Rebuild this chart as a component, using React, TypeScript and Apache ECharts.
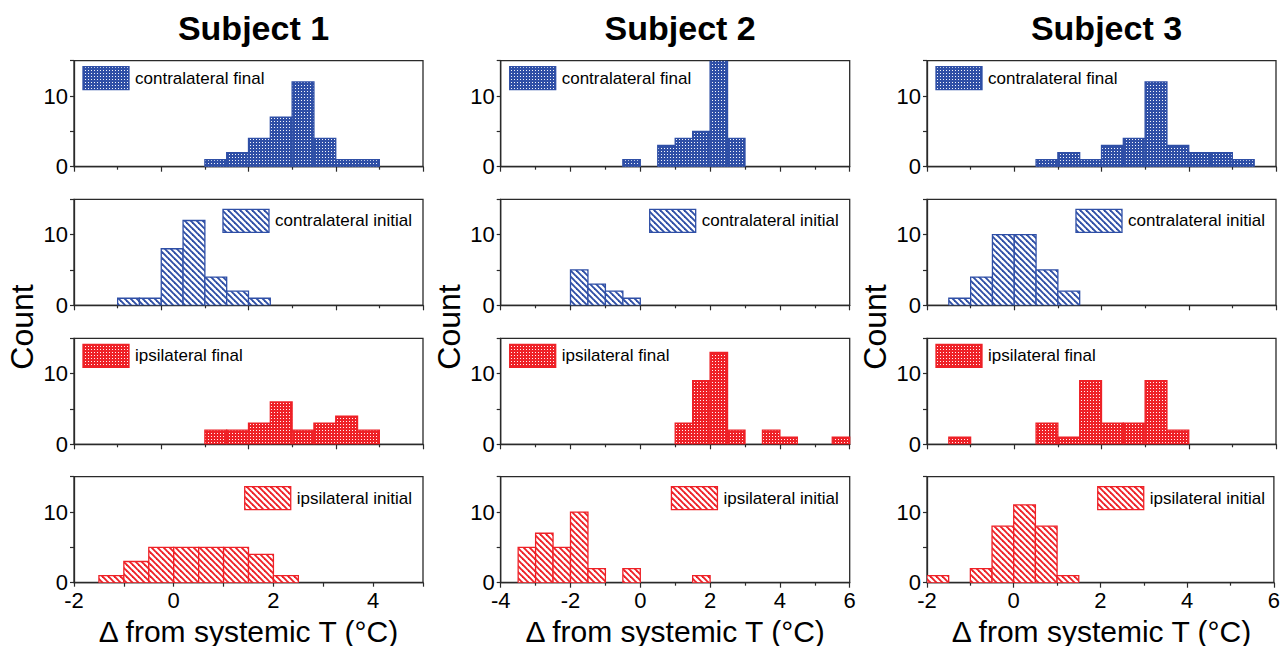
import React, { useEffect, useRef } from 'react';
import * as echarts from 'echarts';

// ---------- data ----------
const BIN_WIDTH = 0.5;

const subjects = ['Subject 1', 'Subject 2', 'Subject 3'];
const rowLabels = ['contralateral final', 'contralateral initial', 'ipsilateral final', 'ipsilateral initial'];

// Subject 1
const s1ContraFinalBins = [1.0, 1.5, 2.0, 2.5, 3.0, 3.5, 4.0, 4.5];
const s1ContraFinalCounts = [1, 2, 4, 7, 12, 4, 1, 1];
const s1ContraInitialBins = [-1.0, -0.5, 0.0, 0.5, 1.0, 1.5, 2.0];
const s1ContraInitialCounts = [1, 1, 8, 12, 4, 2, 1];
const s1IpsiFinalBins = [1.0, 1.5, 2.0, 2.5, 3.0, 3.5, 4.0, 4.5];
const s1IpsiFinalCounts = [2, 2, 3, 6, 2, 3, 4, 2];
const s1IpsiInitialBins = [-1.5, -1.0, -0.5, 0.0, 0.5, 1.0, 1.5, 2.0];
const s1IpsiInitialCounts = [1, 3, 5, 5, 5, 5, 4, 1];

// Subject 2
const s2ContraFinalBins = [-0.5, 0.5, 1.0, 1.5, 2.0, 2.5];
const s2ContraFinalCounts = [1, 3, 4, 5, 15, 4];
const s2ContraInitialBins = [-2.0, -1.5, -1.0, -0.5];
const s2ContraInitialCounts = [5, 3, 2, 1];
const s2IpsiFinalBins = [1.0, 1.5, 2.0, 2.5, 3.5, 4.0, 5.5];
const s2IpsiFinalCounts = [3, 9, 13, 2, 2, 1, 1];
const s2IpsiInitialBins = [-3.5, -3.0, -2.5, -2.0, -1.5, -0.5, 1.5];
const s2IpsiInitialCounts = [5, 7, 5, 10, 2, 2, 1];

// Subject 3
const s3ContraFinalBins = [0.5, 1.0, 1.5, 2.0, 2.5, 3.0, 3.5, 4.0, 4.5, 5.0];
const s3ContraFinalCounts = [1, 2, 1, 3, 4, 12, 3, 2, 2, 1];
const s3ContraInitialBins = [-1.5, -1.0, -0.5, 0.0, 0.5, 1.0];
const s3ContraInitialCounts = [1, 4, 10, 10, 5, 2];
const s3IpsiFinalBins = [-1.5, 0.5, 1.0, 1.5, 2.0, 2.5, 3.0, 3.5];
const s3IpsiFinalCounts = [1, 3, 1, 9, 3, 3, 9, 2];
const s3IpsiInitialBins = [-2.0, -1.0, -0.5, 0.0, 0.5, 1.0];
const s3IpsiInitialCounts = [1, 2, 8, 11, 8, 1];

// axis ranges [subject][row]
const xMins = [[-2, -2, -2, -2], [-4, -4, -4, -4], [-2, -2, -2, -2]];
const xMaxs = [[6, 6, 6, 5], [6, 6, 6, 6], [6, 6, 6, 6]];
const yMin = 0;
const yMax = 15;
const yLabelValues = [0, 10];

const yTitle = 'Count';
const xTitle = '\u0394 from systemic T (\u00B0C)';

const panels = [
  [
    { bins: s1ContraFinalBins, counts: s1ContraFinalCounts },
    { bins: s1ContraInitialBins, counts: s1ContraInitialCounts },
    { bins: s1IpsiFinalBins, counts: s1IpsiFinalCounts },
    { bins: s1IpsiInitialBins, counts: s1IpsiInitialCounts },
  ],
  [
    { bins: s2ContraFinalBins, counts: s2ContraFinalCounts },
    { bins: s2ContraInitialBins, counts: s2ContraInitialCounts },
    { bins: s2IpsiFinalBins, counts: s2IpsiFinalCounts },
    { bins: s2IpsiInitialBins, counts: s2IpsiInitialCounts },
  ],
  [
    { bins: s3ContraFinalBins, counts: s3ContraFinalCounts },
    { bins: s3ContraInitialBins, counts: s3ContraInitialCounts },
    { bins: s3IpsiFinalBins, counts: s3IpsiFinalCounts },
    { bins: s3IpsiInitialBins, counts: s3IpsiInitialCounts },
  ],
];

// ---------- layout / style ----------
const COL_LEFT = [74, 500.7, 927];
const GRID_W = 349;
const ROW_TOP = [60.7, 199.3, 338.3, 476.7];
const GRID_H = 106;
const FONT = "'Liberation Sans', Arial, Helvetica, sans-serif";
const BLUE = '#2f4fa6';
const RED = '#ee2127';
const AXIS = '#2a2a2a';

function dotPattern(color: string) {
  const c = document.createElement('canvas');
  c.width = 3;
  c.height = 3;
  const ctx = c.getContext('2d')!;
  ctx.fillStyle = color;
  ctx.fillRect(0, 0, 3, 3);
  ctx.fillStyle = 'rgba(255,255,255,0.95)';
  ctx.fillRect(1, 1, 1, 1);
  return { image: c, repeat: 'repeat', imageWidth: 3, imageHeight: 3 };
}

function hatchPattern(color: string) {
  const s = 6;
  const c = document.createElement('canvas');
  c.width = s;
  c.height = s;
  const ctx = c.getContext('2d')!;
  ctx.fillStyle = '#fff';
  ctx.fillRect(0, 0, s, s);
  ctx.strokeStyle = color;
  ctx.lineWidth = 1.9;
  for (const o of [-s, 0, s]) {
    ctx.beginPath();
    ctx.moveTo(o - 1, -1);
    ctx.lineTo(o + s + 1, s + 1);
    ctx.stroke();
  }
  return { image: c, repeat: 'repeat', imageWidth: s, imageHeight: s };
}

function measure(text: string, size: number) {
  const c = document.createElement('canvas');
  const ctx = c.getContext('2d')!;
  ctx.font = `${size}px ${FONT}`;
  return ctx.measureText(text).width;
}

function buildOption() {
  const patterns = [
    dotPattern(BLUE),
    hatchPattern(BLUE),
    dotPattern(RED),
    hatchPattern(RED),
  ];
  const colors = [BLUE, BLUE, RED, RED];

  const grid: any[] = [];
  const xAxis: any[] = [];
  const yAxis: any[] = [];
  const series: any[] = [];
  const graphic: any[] = [];

  let idx = 0;
  for (let col = 0; col < 3; col++) {
    const gl = COL_LEFT[col];
    for (let row = 0; row < 4; row++) {
      const gt = ROW_TOP[row];
      const isBottom = row === 3;
      const xmin = xMins[col][row];
      const xmax = xMaxs[col][row];
      const evenSpan = (xmax - xmin) % 2 === 0;
      grid.push({
        left: gl,
        top: gt,
        width: GRID_W,
        height: GRID_H,
        show: true,
        borderColor: AXIS,
        borderWidth: 1.3,
        backgroundColor: 'transparent',
      });
      xAxis.push({
        type: 'value',
        gridIndex: idx,
        min: xmin,
        max: xmax,
        interval: evenSpan ? 2 : 1,
        axisLine: { show: true, onZero: false, lineStyle: { color: AXIS, width: 1.3 } },
        axisTick: { show: true, inside: false, length: evenSpan ? 5 : 4, lineStyle: { color: AXIS, width: 1.2 } },
        minorTick: { show: evenSpan, splitNumber: 2, length: 3, lineStyle: { color: AXIS, width: 1.2 } },
        splitLine: { show: false },
        minorSplitLine: { show: false },
        axisLabel: {
          show: isBottom,
          fontSize: 22,
          color: '#000',
          fontFamily: FONT,
          margin: 7,
          formatter: (v: number) => (v % 2 === 0 ? String(v) : ''),
        },
      });
      yAxis.push({
        type: 'value',
        gridIndex: idx,
        min: yMin,
        max: yMax,
        interval: 5,
        axisLine: { show: true, onZero: false, lineStyle: { color: AXIS, width: 1.3 } },
        axisTick: { show: true, inside: false, length: 4, lineStyle: { color: AXIS, width: 1.2 } },
        splitLine: { show: false },
        axisLabel: {
          show: true,
          fontSize: 22,
          color: '#000',
          fontFamily: FONT,
          margin: 6,
          formatter: (v: number) => (yLabelValues.includes(v) ? String(v) : ''),
        },
      });

      const p = panels[col][row];
      const fill = patterns[row];
      const stroke = colors[row];
      series.push({
        type: 'custom',
        name: `${subjects[col]} ${rowLabels[row]}`,
        xAxisIndex: idx,
        yAxisIndex: idx,
        clip: true,
        data: p.bins.map((b, k) => [b, b + BIN_WIDTH, p.counts[k]]),
        encode: { x: [0, 1], y: 2 },
        renderItem: (params: any, api: any) => {
          const x0 = api.value(0);
          const x1 = api.value(1);
          const c = api.value(2);
          const p0 = api.coord([x0, 0]);
          const p1 = api.coord([x1, c]);
          return {
            type: 'rect',
            shape: { x: p0[0], y: p1[1], width: p1[0] - p0[0], height: p0[1] - p1[1] },
            style: { fill, stroke, lineWidth: 1.3 },
          };
        },
      });

      // legend
      const label = rowLabels[row];
      const pw = 46;
      const ph = 23;
      if (row % 2 === 0) {
        const px = gl + 9;
        const py = gt + 6;
        graphic.push({ type: 'rect', silent: true, shape: { x: px, y: py, width: pw, height: ph }, style: { fill, stroke, lineWidth: 1.3 }, z: 10 });
        graphic.push({
          type: 'text', silent: true, x: px + pw + 6, y: py + ph / 2, z: 10,
          style: { text: label, font: `17px ${FONT}`, fill: '#000', align: 'left', verticalAlign: 'middle' },
        });
      } else {
        const tr = gl + GRID_W - 11;
        const tw = measure(label, 17);
        const px = tr - tw - 6 - pw;
        const py = gt + 10;
        graphic.push({ type: 'rect', silent: true, shape: { x: px, y: py, width: pw, height: ph }, style: { fill, stroke, lineWidth: 1.3 }, z: 10 });
        graphic.push({
          type: 'text', silent: true, x: tr, y: py + ph / 2, z: 10,
          style: { text: label, font: `17px ${FONT}`, fill: '#000', align: 'right', verticalAlign: 'middle' },
        });
      }
      idx++;
    }

    // subject title
    graphic.push({
      type: 'text', silent: true, x: gl + GRID_W / 2 + 5, y: 27.5,
      style: { text: subjects[col], font: `bold 34px ${FONT}`, fill: '#000', align: 'center', verticalAlign: 'middle' },
    });
    // y title
    graphic.push({
      type: 'text', silent: true, x: gl - 52, y: 327, rotation: Math.PI / 2,
      style: { text: yTitle, font: `32px ${FONT}`, fill: '#000', align: 'center', verticalAlign: 'middle' },
    });
    // x title
    graphic.push({
      type: 'text', silent: true, x: gl + GRID_W / 2, y: 631,
      style: { text: xTitle, font: `30px ${FONT}`, fill: '#000', align: 'center', verticalAlign: 'middle' },
    });
  }

  return {
    animation: false,
    backgroundColor: '#fff',
    grid,
    xAxis,
    yAxis,
    series,
    graphic,
  };
}

export default function App() {
  const ref = useRef<HTMLDivElement>(null);
  useEffect(() => {
    const chart = echarts.init(ref.current!, null, { renderer: 'svg' });
    chart.setOption(buildOption() as any);
    return () => chart.dispose();
  }, []);
  return (
    <div
      ref={ref}
      style={{ position: 'fixed', left: 0, top: 0, width: 1283, height: 646, background: '#fff' }}
    />
  );
}
